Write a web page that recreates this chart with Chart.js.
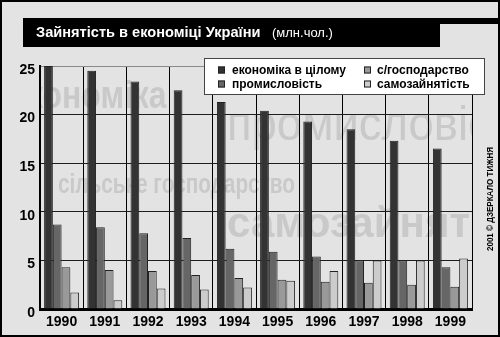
<!DOCTYPE html>
<html>
<head>
<meta charset="utf-8">
<script src="https://cdn.jsdelivr.net/npm/chart.js@4"></script>
<style>
  html, body { margin: 0; padding: 0; background: #e3e3e3; }
  #wrap { width: 500px; height: 337px; }
  canvas { display: block; }
</style>
</head>
<body>
<div id="wrap"><canvas id="chart" width="500" height="337"></canvas></div>
<script>
// Employment in Ukraine's economy, million people
const years = ['1990', '1991', '1992', '1993', '1994', '1995', '1996', '1997', '1998', '1999'];
const seriesNames = ['економіка в цілому', 'промисловість', 'с/господарство', 'самозайнятість'];
const economy      = [25.0, 24.5, 23.4, 22.5, 21.3, 20.4, 19.3, 18.5, 17.3, 16.5];
const industry     = [8.7, 8.4, 7.8, 7.3, 6.2, 5.9, 5.4, 5.0, 5.0, 4.3];
const agriculture  = [4.3, 4.0, 3.9, 3.5, 3.2, 3.0, 2.8, 2.7, 2.5, 2.3];
const selfEmployed = [1.7, 0.9, 2.1, 2.0, 2.2, 2.9, 3.9, 5.0, 5.0, 5.2];
const yTicks = [0, 5, 10, 15, 20, 25];
const titleMain = 'Зайнятість в економіці України';
const titleUnit = '(млн.чол.)';
const backdropWords = ['економіка', 'промисловість', 'сільське господарство', 'самозайнятість'];
const credit = '2001 © ДЗЕРКАЛО ТИЖНЯ';

const seriesColors = ['#333333', '#666666', '#999999', '#cccccc'];
const FONT = '"Liberation Sans", Arial, Helvetica, sans-serif';
const BG = '#e3e3e3';

// Draws text horizontally stretched/condensed so that `fitText` spans `fitWidth`
function fittedText(ctx, text, font, fitText, fitWidth, startX, fitStartText, baseline) {
  ctx.font = font;
  const sx = fitWidth / ctx.measureText(fitText).width;
  const lead = fitStartText ? ctx.measureText(fitStartText).width * sx : 0;
  ctx.save();
  ctx.translate(startX - lead, baseline);
  ctx.scale(sx, 1);
  ctx.textAlign = 'left';
  ctx.textBaseline = 'alphabetic';
  ctx.fillText(text, 0, 0);
  ctx.restore();
}

const backdropPlugin = {
  id: 'backdrop',
  beforeDraw(chart) {
    const ctx = chart.ctx;
    const a = chart.chartArea;
    ctx.save();
    ctx.fillStyle = BG;
    ctx.fillRect(0, 0, chart.width, chart.height);

    // title bar
    ctx.fillStyle = '#000';
    ctx.fillRect(23, 18, 417, 29);
    ctx.fillRect(440, 18, 60, 6);
    ctx.fillStyle = '#fff';
    ctx.textBaseline = 'alphabetic';
    ctx.textAlign = 'left';
    ctx.font = 'bold 14.6px ' + FONT;
    ctx.fillText(titleMain, 36, 37);
    ctx.font = '13px ' + FONT;
    ctx.fillText(titleUnit, 272, 37);

    // faint category words behind the grid
    ctx.beginPath();
    ctx.rect(a.left, a.top, a.right - a.left, a.bottom - a.top);
    ctx.clip();
    ctx.fillStyle = '#c9c9c9';
    fittedText(ctx, backdropWords[0], 'bold 38px ' + FONT, 'ономіка', 124, 43, 'ек', 108);
    fittedText(ctx, backdropWords[1], '48px ' + FONT, 'промислові', 241, 227, '', 140);
    fittedText(ctx, backdropWords[2], 'bold 28px ' + FONT, backdropWords[2], 237, 58, '', 193);
    fittedText(ctx, backdropWords[3], 'bold 42px ' + FONT, 'самозайнят', 243, 227, '', 237);
    ctx.restore();
  },
  afterDraw(chart) {
    const ctx = chart.ctx;
    ctx.save();

    // legend box (column-major, two rows)
    ctx.fillStyle = '#fff';
    ctx.fillRect(204, 58, 281, 37);
    ctx.strokeStyle = '#444';
    ctx.lineWidth = 1;
    ctx.strokeRect(204.5, 58.5, 280, 36);
    const colX = [218, 364];
    const textX = [232, 377];
    const rowY = [70, 84];
    ctx.font = 'bold 12px ' + FONT;
    ctx.textBaseline = 'middle';
    ctx.textAlign = 'left';
    chart.data.datasets.forEach((ds, i) => {
      const c = Math.floor(i / 2), r = i % 2;
      ctx.fillStyle = ds.backgroundColor;
      ctx.fillRect(colX[c], rowY[r] - 3.5, 7, 7);
      ctx.strokeStyle = '#222';
      ctx.strokeRect(colX[c] + 0.5, rowY[r] - 3, 6, 6);
      ctx.fillStyle = '#000';
      ctx.fillText(ds.label, textX[c], rowY[r] + 0.5);
    });

    // vertical credit line
    ctx.save();
    ctx.translate(491, 251);
    ctx.rotate(-Math.PI / 2);
    ctx.font = 'bold 9px ' + FONT;
    const sx = 104 / ctx.measureText(credit).width;
    ctx.scale(sx, 1);
    ctx.fillStyle = '#000';
    ctx.textBaseline = 'middle';
    ctx.fillText(credit, 0, 0);
    ctx.restore();

    // outer frame
    ctx.strokeStyle = '#000';
    ctx.lineWidth = 2;
    ctx.strokeRect(1, 1, chart.width - 2, chart.height - 2);
    ctx.restore();
  }
};

const datasets = [economy, industry, agriculture, selfEmployed].map((vals, i) => ({
  label: seriesNames[i],
  data: vals,
  backgroundColor: seriesColors[i],
  borderColor: '#222',
  borderWidth: 1,
  categoryPercentage: 0.81,
  barPercentage: 1.0
}));

new Chart(document.getElementById('chart'), {
  type: 'bar',
  data: { labels: years, datasets },
  options: {
    responsive: false,
    animation: false,
    devicePixelRatio: 1,
    layout: { padding: { left: 0, right: 28, top: 66, bottom: 0 } },
    plugins: { legend: { display: false }, tooltip: { enabled: false }, title: { display: false } },
    scales: {
      x: {
        grid: { color: '#000', lineWidth: 1, drawTicks: false, offset: true },
        border: { color: '#000', width: 3 },
        ticks: { color: '#000', font: { family: FONT, size: 14, weight: 'bold' }, padding: 5, maxRotation: 0 },
        afterFit(scale) { scale.height = 28; }
      },
      y: {
        min: 0,
        max: 25,
        afterBuildTicks(scale) { scale.ticks = yTicks.map(v => ({ value: v })); },
        grid: {
          color: c => (c.tick && c.tick.value === 25 ? '#8a8a8a' : '#1e1e1e'),
          lineWidth: 1,
          drawTicks: false
        },
        border: { color: '#000', width: 2 },
        ticks: { color: '#000', font: { family: FONT, size: 14, weight: 'bold' }, padding: 5, labelOffset: 4 },
        afterFit(scale) { scale.width = 40; }
      }
    }
  },
  plugins: [backdropPlugin]
});
</script>
</body>
</html>
